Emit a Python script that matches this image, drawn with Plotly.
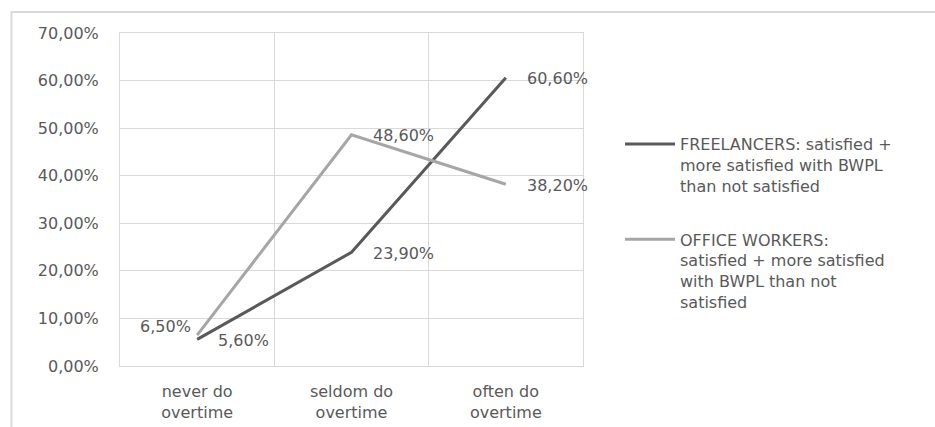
import plotly.graph_objects as go

categories = ["never do<br>overtime", "seldom do<br>overtime", "often do<br>overtime"]
freelancers = [5.6, 23.9, 60.6]
office = [6.5, 48.6, 38.2]
y_ticks = [0, 10, 20, 30, 40, 50, 60, 70]

name_free = "FREELANCERS: satisfied +<br>more satisfied with BWPL<br>than not satisfied"
name_office = "OFFICE WORKERS:<br>satisfied + more satisfied<br>with BWPL than not<br>satisfied"

DARK = "#595959"
LIGHT = "#a6a6a6"
TEXT = "#595959"
GRID = "#d9d9d9"
FONT = "DejaVu Sans"

def fmt(v):
    return f"{v:.2f}".replace(".", ",") + "%"

y_ticktext = [fmt(v) for v in y_ticks]

fig = go.Figure()
fig.add_trace(go.Scatter(x=categories, y=freelancers, mode="lines", name=name_free,
                         line=dict(color=DARK, width=3), legendgroup="a"))
fig.add_trace(go.Scatter(x=categories, y=office, mode="lines", name=name_office,
                         line=dict(color=LIGHT, width=3), legendgroup="b"))

annotations = []
for c, v in zip(categories, freelancers):
    annotations.append(dict(x=c, y=v, text=fmt(v), showarrow=False, xanchor="left",
                            yanchor="middle", xshift=19, yshift=-1,
                            font=dict(family=FONT, size=16, color=TEXT)))
for i, (c, v) in enumerate(zip(categories, office)):
    if i == 0:
        annotations.append(dict(x=c, y=v, text=fmt(v), showarrow=False, xanchor="right",
                                yanchor="middle", xshift=-4, yshift=9,
                                font=dict(family=FONT, size=16, color=TEXT)))
    else:
        annotations.append(dict(x=c, y=v, text=fmt(v), showarrow=False, xanchor="left",
                                yanchor="middle", xshift=19, yshift=-1,
                                font=dict(family=FONT, size=16, color=TEXT)))

L, R, T, B = 120, 352, 33, 61
W, H = 935, 427
pw, ph = W - L - R, H - T - B
bx = (11.5 - L) / pw
by = (H - B - 12) / ph

fig.update_layout(
    width=W, height=H,
    margin=dict(l=L, r=R, t=T, b=B),
    paper_bgcolor="white", plot_bgcolor="white",
    font=dict(family=FONT, size=16, color=TEXT),
    showlegend=True,
    legend=dict(x=(620 - L) / pw, xanchor="left", y=(H - B - 127) / ph, yanchor="top",
                valign="top", tracegroupgap=30, itemwidth=50,
                font=dict(family=FONT, size=16, color=TEXT), bgcolor="rgba(0,0,0,0)"),
    annotations=annotations,
    shapes=[dict(type="path", xref="paper", yref="paper",
                 path=f"M {bx},-1 L {bx},{by} L 3,{by}",
                 line=dict(color=GRID, width=2))],
    xaxis=dict(type="category", range=[-0.5, 2.5], tickson="boundaries",
               showgrid=True, gridcolor=GRID, gridwidth=1,
               showline=True, linecolor=GRID, linewidth=1, mirror=True,
               ticks="", tickfont=dict(family=FONT, size=16, color=TEXT),
               ticklabelstandoff=11, zeroline=False, automargin=False),
    yaxis=dict(range=[0, 70], tickmode="array", tickvals=y_ticks, ticktext=y_ticktext,
               showgrid=True, gridcolor=GRID, gridwidth=1,
               showline=True, linecolor=GRID, linewidth=1, mirror=True,
               ticks="", tickfont=dict(family=FONT, size=16, color=TEXT),
               ticklabelstandoff=17, zeroline=False, automargin=False),
)

fig.write_html("out.html")
